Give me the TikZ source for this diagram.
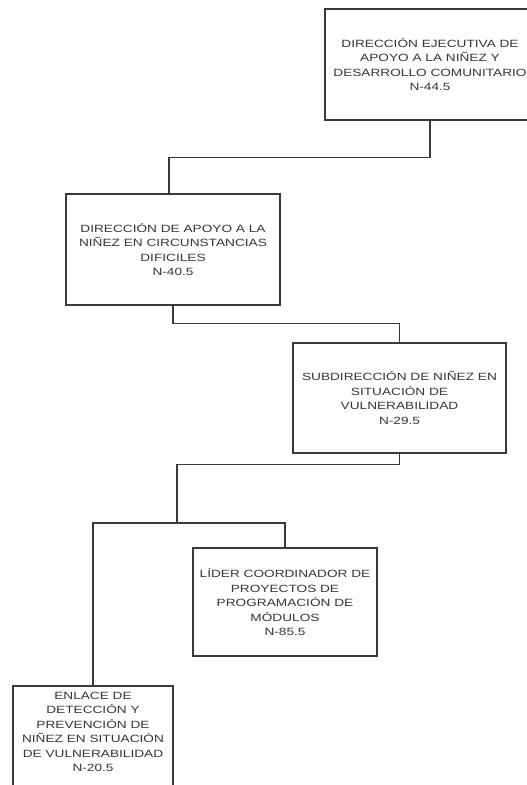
\documentclass[tikz,border=0pt]{standalone}
\usepackage{fontspec}
\setmainfont{Liberation Sans}[FakeStretch=1.3]
\usepackage{xcolor}
\definecolor{linegray}{HTML}{3A3A3A}
\definecolor{textgray}{HTML}{363636}

\begin{document}
\begin{tikzpicture}[x=1pt,y=-1pt,
  caja/.style={draw=linegray,line width=1.4pt,fill=white,align=center,text=textgray,
    font=\fontsize{10.5}{14.5}\selectfont,inner sep=0pt},
  linea/.style={draw=linegray,line width=1.4pt}]
\useasboundingbox (0,0) rectangle (527,785);

\node[caja,minimum width=210pt,minimum height=111pt] (ejecutiva) at (430,64.5)
  {DIRECCIÓN EJECUTIVA DE\\APOYO A LA NIÑEZ Y\\DESARROLLO COMUNITARIO\\N-44.5};
\node[caja,minimum width=214pt,minimum height=111pt] (apoyo) at (173,249.5)
  {DIRECCIÓN DE APOYO A LA\\NIÑEZ EN CIRCUNSTANCIAS\\DIFICILES\\N-40.5};
\node[caja,minimum width=213pt,minimum height=110pt] (subdir) at (399.5,398)
  {SUBDIRECCIÓN DE NIÑEZ EN\\SITUACIÓN DE\\VULNERABILIDAD\\N-29.5};
\node[caja,minimum width=184pt,minimum height=108pt] (lider) at (285,602)
  {LÍDER COORDINADOR DE\\PROYECTOS DE\\PROGRAMACIÓN DE\\MÓDULOS\\N-85.5};
\node[caja,minimum width=160pt,minimum height=114pt] (enlace) at (93,743) {};
\node[caja,draw=none,fill=none] (enlacetxt) at (93,732)
  {ENLACE DE\\DETECCIÓN Y\\PREVENCIÓN DE\\NIÑEZ EN SITUACIÓN\\DE VULNERABILIDAD\\N-20.5};

\coordinate (rama) at (177,523);
\draw[linea] (ejecutiva.south) -- ++(0,37) -| ([xshift=-4pt]apoyo.north);
\draw[linea] (apoyo.south) -- ++(0,18) -| (subdir.north);
\draw[linea] (subdir.south) -- ++(0,11) -| (rama);
\draw[linea] (enlace.north) |- (rama) -| (lider.north);
\end{tikzpicture}
\end{document}
